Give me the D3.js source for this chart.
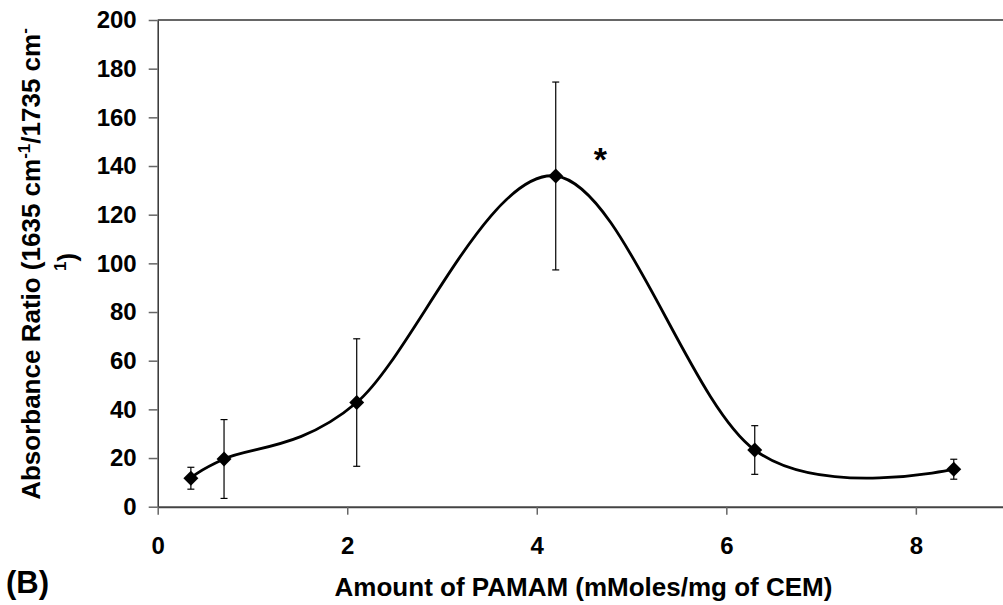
<!DOCTYPE html>
<html>
<head>
<meta charset="utf-8">
<script src="https://cdn.jsdelivr.net/npm/d3@7"></script>
<style>
  html, body { margin: 0; padding: 0; background: #fff; }
  svg { display: block; font-family: "Liberation Sans", Arial, sans-serif; }
</style>
</head>
<body>
<svg id="chart" width="1003" height="605"></svg>
<script>
// ---- data ----
const amounts = [0.35, 0.7, 2.1, 4.2, 6.3, 8.4];          // mMoles/mg of CEM
const ratios  = [11.7, 19.6, 42.8, 135.9, 23.3, 15.4];    // absorbance ratio
const errors  = [4.5, 16.2, 26.2, 38.6, 10.0, 4.1];       // error bar half-length
const xTicks  = [0, 2, 4, 6, 8];
const yTicks  = [0, 20, 40, 60, 80, 100, 120, 140, 160, 180, 200];
const starPoint = [4.67, 146.6];

(function () {
const svg = d3.select("#chart");
const pLeft = 157.7, pRight = 1003, pTop = 20, pBottom = 506.7;

const x = d3.scaleLinear().domain([0, (pRight - pLeft) / 94.77]).range([pLeft, pRight]);
const y = d3.scaleLinear().domain([0, 200]).range([pBottom, pTop]);

// top border of plot area
svg.append("line")
  .attr("x1", pLeft).attr("x2", pRight)
  .attr("y1", pTop).attr("y2", pTop)
  .attr("stroke", "#333").attr("stroke-width", 1.5);

// y axis
const gy = svg.append("g")
  .attr("transform", `translate(${pLeft},0)`)
  .call(d3.axisLeft(y).tickValues(yTicks).tickSize(9).tickSizeOuter(0).tickPadding(12));
gy.select(".domain").attr("stroke", "#333").attr("stroke-width", 1.5);
gy.selectAll(".tick line").attr("stroke", "#666").attr("stroke-width", 1.5);
gy.selectAll(".tick text")
  .attr("font-size", 24).attr("font-weight", "bold")
  .attr("font-family", "Liberation Sans, Arial, sans-serif").attr("fill", "#000");

// x axis
const gx = svg.append("g")
  .attr("transform", `translate(0,${pBottom})`)
  .call(d3.axisBottom(x).tickValues(xTicks).tickSize(8).tickSizeOuter(0).tickPadding(22));
gx.select(".domain").attr("stroke", "#444").attr("stroke-width", 2);
gx.selectAll(".tick line").attr("stroke", "#666").attr("stroke-width", 1.5);
gx.selectAll(".tick text")
  .attr("font-size", 24).attr("font-weight", "bold")
  .attr("font-family", "Liberation Sans, Arial, sans-serif").attr("fill", "#000");

const pts = amounts.map((a, i) => ({ a, r: ratios[i], e: errors[i] }));

// error bars
const eb = svg.append("g").attr("stroke", "#000").attr("stroke-width", 1.2);
pts.forEach(p => {
  eb.append("line")
    .attr("x1", x(p.a)).attr("x2", x(p.a))
    .attr("y1", y(p.r - p.e)).attr("y2", y(p.r + p.e));
  [p.r - p.e, p.r + p.e].forEach(v => {
    eb.append("line")
      .attr("x1", x(p.a) - 3.5).attr("x2", x(p.a) + 3.5)
      .attr("y1", y(v)).attr("y2", y(v));
  });
});

// smoothed line
const line = d3.line()
  .x(d => x(d.a)).y(d => y(d.r))
  .curve(d3.curveCardinal.tension(0));
svg.append("path")
  .datum(pts)
  .attr("d", line)
  .attr("fill", "none")
  .attr("stroke", "#000")
  .attr("stroke-width", 2.8);

// diamond markers
svg.append("g").selectAll("path.m")
  .data(pts).join("path")
  .attr("class", "m")
  .attr("transform", d => `translate(${x(d.a)},${y(d.r)}) rotate(45)`)
  .attr("d", d3.symbol().type(d3.symbolSquare).size(112))
  .attr("fill", "#000");

// significance star
svg.append("text")
  .attr("x", x(starPoint[0])).attr("y", y(starPoint[1]))
  .attr("dy", "0.62em")
  .attr("text-anchor", "middle")
  .attr("font-size", 34).attr("font-weight", "bold")
  .text("*");

// x axis title
svg.append("text")
  .attr("x", 583.5).attr("y", 596)
  .attr("text-anchor", "middle")
  .attr("font-size", 26).attr("font-weight", "bold")
  .text("Amount of PAMAM (mMoles/mg of CEM)");

// panel label
svg.append("text")
  .attr("x", 6).attr("y", 593)
  .attr("font-size", 31).attr("font-weight", "bold")
  .text("(B)");

// y axis title (two lines, rotated)
const yt1 = svg.append("text")
  .attr("transform", "translate(40,264) rotate(-90)")
  .attr("text-anchor", "middle")
  .attr("font-size", 26).attr("font-weight", "bold");
yt1.append("tspan").text("Absorbance Ratio (1635 cm");
yt1.append("tspan").attr("font-size", 17).attr("dy", -10).text("-1");
yt1.append("tspan").attr("dy", 10).text("/1735 cm");
yt1.append("tspan").attr("font-size", 17).attr("dy", -10).text("-");

const yt2 = svg.append("text")
  .attr("transform", "translate(76,262) rotate(-90)")
  .attr("text-anchor", "middle")
  .attr("font-size", 26).attr("font-weight", "bold");
yt2.append("tspan").attr("font-size", 17).attr("dy", -10).text("1");
yt2.append("tspan").attr("dy", 10).text(")");
})();
</script>
</body>
</html>
